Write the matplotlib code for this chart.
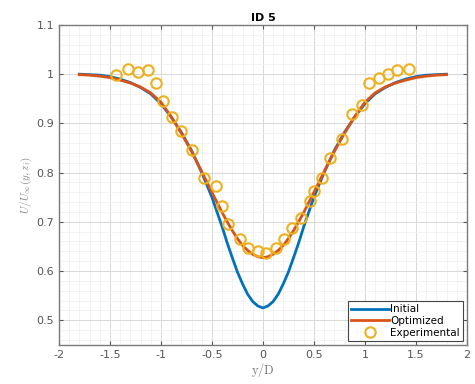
#recreating the ID 5 wake profile chart
import numpy as np
import matplotlib.pyplot as plt
from matplotlib.ticker import MultipleLocator

# model curves (finer spacing near the wake centre)
y_model = [-1.8, -1.7, -1.6, -1.5, -1.4, -1.3, -1.2, -1.1, -1.0, -0.9,
           -0.8, -0.7, -0.6, -0.5, -0.4, -0.35, -0.3, -0.25, -0.2, -0.15,
           -0.1, -0.05, 0.0, 0.05, 0.1, 0.15, 0.2, 0.25, 0.3, 0.35, 0.4,
           0.5, 0.6, 0.7, 0.8, 0.9, 1.0, 1.1, 1.2, 1.3, 1.4, 1.5, 1.6, 1.7, 1.8]
u_initial = [1.0, 0.999, 0.998, 0.995, 0.99, 0.983, 0.973, 0.96, 0.94, 0.913,
             0.882, 0.845, 0.80, 0.75, 0.69, 0.657, 0.627, 0.598, 0.574, 0.553,
             0.538, 0.529, 0.525, 0.529, 0.538, 0.553, 0.574, 0.598, 0.627, 0.657, 0.69,
             0.75, 0.80, 0.845, 0.882, 0.913, 0.94, 0.96, 0.973, 0.983, 0.99, 0.995, 0.998, 0.999, 1.0]
u_optimized = [0.999, 0.998, 0.996, 0.993, 0.988, 0.982, 0.974, 0.962, 0.943, 0.914,
               0.880, 0.843, 0.802, 0.760, 0.719, 0.700, 0.682, 0.666, 0.652, 0.642,
               0.634, 0.629, 0.627, 0.629, 0.634, 0.642, 0.652, 0.666, 0.682, 0.700, 0.719,
               0.760, 0.802, 0.843, 0.880, 0.914, 0.943, 0.962, 0.974, 0.982, 0.988, 0.993, 0.996, 0.998, 0.999]

# experimental points
y_exp = [-1.44, -1.32, -1.22, -1.13, -1.05, -0.98, -0.89, -0.80, -0.70, -0.58,
         -0.46, -0.40, -0.34, -0.22, -0.15, -0.05, 0.03, 0.13, 0.21, 0.29,
         0.37, 0.46, 0.50, 0.58, 0.66, 0.78, 0.87, 0.97, 1.04, 1.14,
         1.23, 1.31, 1.43]
u_exp = [0.998, 1.010, 1.004, 1.008, 0.982, 0.945, 0.912, 0.884, 0.845, 0.790,
         0.773, 0.733, 0.696, 0.665, 0.647, 0.641, 0.637, 0.647, 0.665, 0.688,
         0.708, 0.743, 0.763, 0.788, 0.829, 0.869, 0.920, 0.937, 0.982, 0.992,
         1.000, 1.008, 1.010]

plt.rcParams['mathtext.fontset'] = 'cm'

fig = plt.figure(figsize=(4.75, 3.84), dpi=100)
ax = fig.add_axes([0.124, 0.102, 0.859, 0.833])

ax.plot(y_model, u_initial, color='#0072BD', lw=2, label='Initial', zorder=3)
ax.plot(y_model, u_optimized, color='#D95319', lw=2, label='Optimized', zorder=4)
ax.plot(y_exp, u_exp, 'o', ms=7.5, mfc='none', mec='#EDB120', mew=1.5,
        label='Experimental', zorder=5)

ax.set_xlim(-2, 2)
ax.set_ylim(0.45, 1.1)
ax.set_xticks([-2, -1.5, -1, -0.5, 0, 0.5, 1, 1.5, 2])
ax.set_xticklabels(['-2', '-1.5', '-1', '-0.5', '0', '0.5', '1', '1.5', '2'])
ax.set_yticks([0.5, 0.6, 0.7, 0.8, 0.9, 1.0, 1.1])
ax.set_yticklabels(['0.5', '0.6', '0.7', '0.8', '0.9', '1', '1.1'])
ax.xaxis.set_minor_locator(MultipleLocator(0.1))
ax.yaxis.set_minor_locator(MultipleLocator(0.02))
ax.grid(which='major', color='#d8d8d8', lw=0.7)
ax.grid(which='minor', color='#efefef', lw=0.5)
ax.set_axisbelow(True)
ax.tick_params(which='both', direction='in', top=True, right=True,
               labelsize=8, colors='#555555', length=3)
ax.tick_params(which='minor', length=0)
for s in ax.spines.values():
    s.set_color('#7a7a7a')
    s.set_linewidth(1.0)

ax.set_title('ID 5', fontsize=8, fontweight='bold', pad=3)
ax.set_xlabel('$\\mathrm{y/D}$', fontsize=9, color='#777777', labelpad=1)
ax.set_ylabel('$U/U_\\infty(y,z_i)$', fontsize=8, color='#888888', labelpad=2)

leg = ax.legend(loc='lower right', fontsize=7.5, handlelength=3.6,
                handletextpad=0.1, borderpad=0.3, labelspacing=0.15,
                fancybox=False, framealpha=1, edgecolor='#444444',
                borderaxespad=0.4)
leg.get_frame().set_linewidth(0.8)

fig.savefig('out.png', dpi=100)
